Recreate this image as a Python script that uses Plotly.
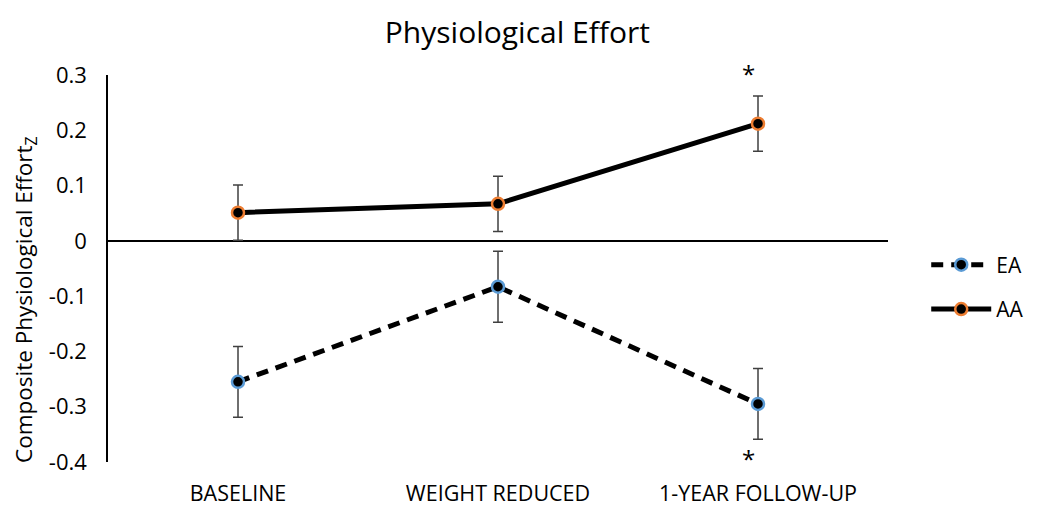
import plotly.graph_objects as go

categories = ["BASELINE", "WEIGHT REDUCED", "1-YEAR FOLLOW-UP"]
ea_values = [-0.255, -0.083, -0.295]
ea_errors = [0.064, 0.064, 0.064]
aa_values = [0.051, 0.067, 0.212]
aa_errors = [0.05, 0.05, 0.05]
y_ticks = [0.3, 0.2, 0.1, 0, -0.1, -0.2, -0.3, -0.4]
y_tick_labels = ["0.3", "0.2", "0.1", "0", "-0.1", "-0.2", "-0.3", "-0.4"]
y_title = "Composite Physiological Effort<sub>Z</sub>"
sig_marks = [(categories[2], 0.3, 2), (categories[2], -0.394, 0)]

FONT = "Open Sans"
fig = go.Figure()

fig.add_trace(go.Scatter(
    x=categories, y=ea_values, name="EA", mode="lines+markers",
    line=dict(color="black", width=5, dash="12px,8px"),
    marker=dict(size=12, color="black", line=dict(color="#5B9BD5", width=2.5)),
    error_y=dict(type="data", array=ea_errors, color="#404040", thickness=1.5, width=5),
    legendgroup="ea",
))
fig.add_trace(go.Scatter(
    x=categories, y=aa_values, name="AA", mode="lines+markers",
    line=dict(color="black", width=5),
    marker=dict(size=12, color="black", line=dict(color="#ED7D31", width=2.5)),
    error_y=dict(type="data", array=aa_errors, color="#404040", thickness=1.5, width=5),
    legendgroup="aa",
))

for cx, cy, ys in sig_marks:
    fig.add_annotation(x=cx, y=cy, text="*", showarrow=False, xshift=-10, yshift=ys,
                       font=dict(size=24, color="black", family=FONT))

# y-axis title (placed as a rotated annotation to match the reference position)
fig.add_annotation(x=-0.1064, y=0.4186, xref="paper", yref="paper", text=y_title,
                   textangle=-90, showarrow=False, xanchor="center", yanchor="middle",
                   font=dict(size=22.5, color="black", family=FONT))

fig.update_layout(
    width=1029, height=502,
    margin=dict(l=100, r=149, t=67, b=48, autoexpand=False),
    paper_bgcolor="white", plot_bgcolor="white",
    font=dict(family=FONT, color="black"),
    title=dict(text="Physiological Effort", x=0.495, xref="container", xanchor="center",
               y=0.952, yref="container", yanchor="middle",
               font=dict(size=30, family=FONT, color="black")),
    showlegend=True,
    legend=dict(x=1.049, xanchor="left", y=0.452, yanchor="middle",
                font=dict(size=21, family=FONT), tracegroupgap=14,
                traceorder="grouped", itemwidth=60),
    xaxis=dict(type="category", range=[-0.5, 2.5], showgrid=False, zeroline=False,
               showline=False, ticks="outside", ticklen=12, tickcolor="rgba(0,0,0,0)",
               automargin=False,
               tickfont=dict(size=21.5, family=FONT)),
    yaxis=dict(range=[-0.4, 0.3], tickvals=y_ticks, ticktext=y_tick_labels,
               showgrid=False, zeroline=True, zerolinecolor="black", zerolinewidth=1.5,
               showline=True, linecolor="black", linewidth=1.5, ticks="",
               ticklabelstandoff=15, automargin=False,
               tickfont=dict(size=22, family=FONT)),
)

fig.write_html("out.html")
